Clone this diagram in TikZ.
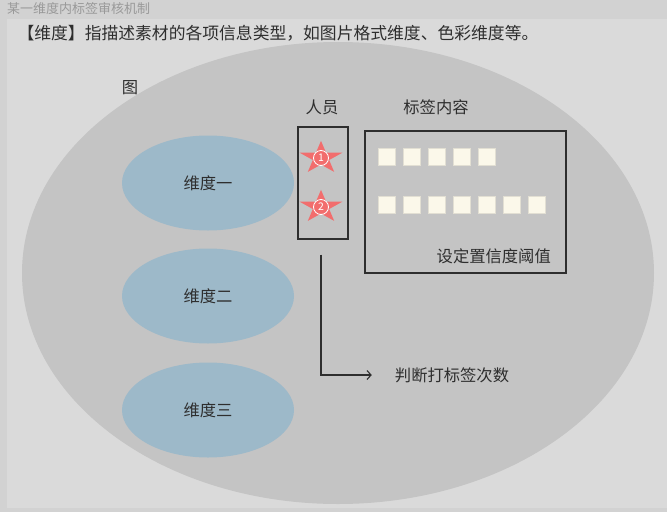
\documentclass[tikz,border=0pt]{standalone}
\usepackage{fontspec}
\setmainfont{Noto Sans CJK SC}
\usetikzlibrary{shapes.geometric,positioning,arrows.meta}
\definecolor{frame}{HTML}{D2D2D2}
\definecolor{panel}{HTML}{DADADA}
\definecolor{bigell}{HTML}{C4C4C4}
\definecolor{dimblue}{HTML}{9DB9C9}
\definecolor{starred}{HTML}{F26D6D}
\definecolor{tagfill}{HTML}{FBF8EA}
\definecolor{ink}{HTML}{2E2E2E}

\begin{document}
\begin{tikzpicture}[x=1pt, y=-1pt,
        txt/.style={inner sep=0pt, text=ink, font=\fontsize{16.3}{18}\selectfont},
        dim/.style={ellipse, fill=dimblue, inner sep=0pt, minimum width=172pt,
            minimum height=95pt, text=ink, font=\fontsize{16.3}{18}\selectfont},
        box/.style={draw=ink, line width=1.1pt, inner sep=0pt},
        tag/.style={rectangle, fill=tagfill, draw=tagfill!90!black, line width=.3pt,
            minimum size=17pt, inner sep=0pt},
        num/.style={circle, draw=white, text=white, line width=.8pt, minimum size=15pt,
            inner sep=0pt, font=\fontsize{10.5}{10.5}\selectfont}]
    \fill[frame] (0,0) rectangle (667,512);
    \fill[panel] (7,19) rectangle (667,508);
    \node[anchor=west, inner sep=0pt, text=black!40, font=\fontsize{13}{14}\selectfont]
        (title) at (7,9) {某一维度内标签审核机制};
    \node[txt, font=\fontsize{16.8}{18}\selectfont] (head) at (278,33)
        {【维度】指描述素材的各项信息类型，如图片格式维度、色彩维度等。};
    \fill[bigell] (338,273) ellipse [x radius=316pt, y radius=231pt];
    \node[txt] (fig) at (130,88) {图};
    \node[dim] (d1) at (208,183) {维度一};
    \node[dim] (d2) at (208,296) {维度二};
    \node[dim] (d3) at (208,410) {维度三};
    \node[txt] (ppltitle) at (322,107) {人员};
    \node[txt] (tagtitle) at (436,107) {标签内容};
    \node[box, minimum width=50pt, minimum height=112pt] (ppl) at (323,183) {};
    \node[box, minimum width=201pt, minimum height=142pt] (tags) at (465.5,202) {};
    \foreach \n/\y in {1/158, 2/207}{
        \coordinate (s\n) at (321,\y);
        \fill[starred, shift={(s\n)}, yscale=.765] (-90:22.4)
            \foreach \k in {1,...,9}{ -- ({-90+36*\k}:{22.4-13.8*mod(\k,2)}) } -- cycle;
        \node[num] (n\n) at (s\n) {\n};
    }
    \foreach \i in {0,...,4}
        \node[tag] (ta\i) at (386.5+25*\i,156.5) {};
    \foreach \i in {0,...,6}
        \node[tag] (tb\i) at (386.5+25*\i,204.5) {};
    \node[txt, anchor=east] (thresh) at (551,256) {设定置信度阈值};
    \node[txt] (judge) at (452,375) {判断打标签次数};
    \draw[ink, line width=1.1pt, -{Straight Barb[length=4pt, width=9pt]}]
        ([yshift=-15pt]ppl.south -| n1) |- ([xshift=-23pt]judge.west);
\end{tikzpicture}
\end{document}
